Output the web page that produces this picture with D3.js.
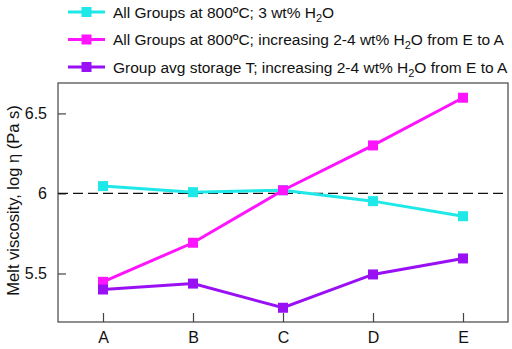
<!DOCTYPE html>
<html>
<head>
<meta charset="utf-8">
<script src="https://cdn.jsdelivr.net/npm/d3@7"></script>
<style>
  body { margin: 0; background: #fff; }
  text { font-family: "Liberation Sans", Arial, sans-serif; }
</style>
</head>
<body>
<div id="chart"></div>
<script>
var groups = ["A", "B", "C", "D", "E"];
var cyanVals = [6.046, 6.008, 6.02, 5.952, 5.858];
var magentaVals = [5.448, 5.692, 6.02, 6.30, 6.598];
var purpleVals = [5.40, 5.437, 5.286, 5.494, 5.594];
var seriesNames = [
  "All Groups at 800ºC; 3 wt% H|2|O",
  "All Groups at 800ºC; increasing 2-4 wt% H|2|O from E to A",
  "Group avg storage T; increasing 2-4 wt% H|2|O from E to A"
];
var seriesColors = ["#1ee8e8", "#ff14ff", "#9a10f5"];
var yTicks = [5.5, 6, 6.5];

var series = [cyanVals, magentaVals, purpleVals];

var W = 512, H = 349;
var margin = {top: 83, right: 4, bottom: 27, left: 58},
    width = W - margin.left - margin.right,
    height = H - margin.top - margin.bottom;

var svg = d3.select("#chart")
    .append("svg")
    .attr("width", W)
    .attr("height", H);

var g = svg.append("g")
    .attr("transform", "translate(" + margin.left + "," + margin.top + ")");

var x = d3.scaleLinear().domain([-0.5, groups.length - 0.5]).range([0, width]);
var y = d3.scaleLinear().domain([5.197, 6.69]).range([height, 0]);

// frame
g.append("rect")
  .attr("width", width)
  .attr("height", height)
  .attr("fill", "none")
  .attr("stroke", "#444")
  .attr("stroke-width", 1.2);

// axes with inward ticks
var xAxis = g.append("g")
  .attr("transform", "translate(0," + height + ")")
  .call(d3.axisBottom(x).tickValues(d3.range(groups.length))
    .tickFormat(function(i){ return groups[i]; })
    .tickSizeInner(-9).tickSizeOuter(0).tickPadding(10));
xAxis.select(".domain").remove();
xAxis.selectAll("line").attr("stroke", "#444").attr("stroke-width", 1.2);
xAxis.selectAll("text").attr("font-size", 16).attr("fill", "#111");

var yAxis = g.append("g")
  .call(d3.axisLeft(y).tickValues(yTicks)
    .tickFormat(function(d){ return d3.format("")(d); })
    .tickSizeInner(-8).tickSizeOuter(0).tickPadding(11));
yAxis.select(".domain").remove();
yAxis.selectAll("line").attr("stroke", "#444").attr("stroke-width", 1.2);
yAxis.selectAll("text").attr("font-size", 16).attr("fill", "#111");

// y label
svg.append("text")
  .attr("transform", "translate(19," + (margin.top + height / 2 - 2) + ") rotate(-90)")
  .attr("text-anchor", "middle")
  .attr("font-size", 16.5)
  .attr("fill", "#111")
  .text("Melt viscosity, log η (Pa s)");

// reference line
g.append("line")
  .attr("x1", 0).attr("x2", width)
  .attr("y1", y(6)).attr("y2", y(6))
  .attr("stroke", "#111")
  .attr("stroke-width", 1.3)
  .attr("stroke-dasharray", "10,5");

var line = d3.line()
  .x(function(d, i){ return x(i); })
  .y(function(d){ return y(d); });

var ms = 10;
series.forEach(function(vals, k) {
  g.append("path")
    .datum(vals)
    .attr("fill", "none")
    .attr("stroke", seriesColors[k])
    .attr("stroke-width", 3)
    .attr("d", line);
  g.selectAll(null)
    .data(vals)
    .enter().append("rect")
    .attr("x", function(d, i){ return x(i) - ms / 2; })
    .attr("y", function(d){ return y(d) - ms / 2; })
    .attr("width", ms)
    .attr("height", ms)
    .attr("fill", seriesColors[k]);
});

// legend
var legendY = [12, 39.5, 67];
seriesNames.forEach(function(name, k) {
  var lg = svg.append("g").attr("transform", "translate(0," + legendY[k] + ")");
  lg.append("line")
    .attr("x1", 68).attr("x2", 105)
    .attr("stroke", seriesColors[k]).attr("stroke-width", 3);
  lg.append("rect")
    .attr("x", 86.5 - ms / 2).attr("y", -ms / 2)
    .attr("width", ms).attr("height", ms)
    .attr("fill", seriesColors[k]);
  var parts = name.split("|");
  var t = lg.append("text")
    .attr("x", 113).attr("y", 5.5)
    .attr("font-size", 15.5)
    .attr("fill", "#111");
  t.append("tspan").text(parts[0]);
  t.append("tspan").attr("dy", 4).attr("font-size", 11).text(parts[1]);
  t.append("tspan").attr("dy", -4).text(parts[2]);
});
</script>
</body>
</html>
